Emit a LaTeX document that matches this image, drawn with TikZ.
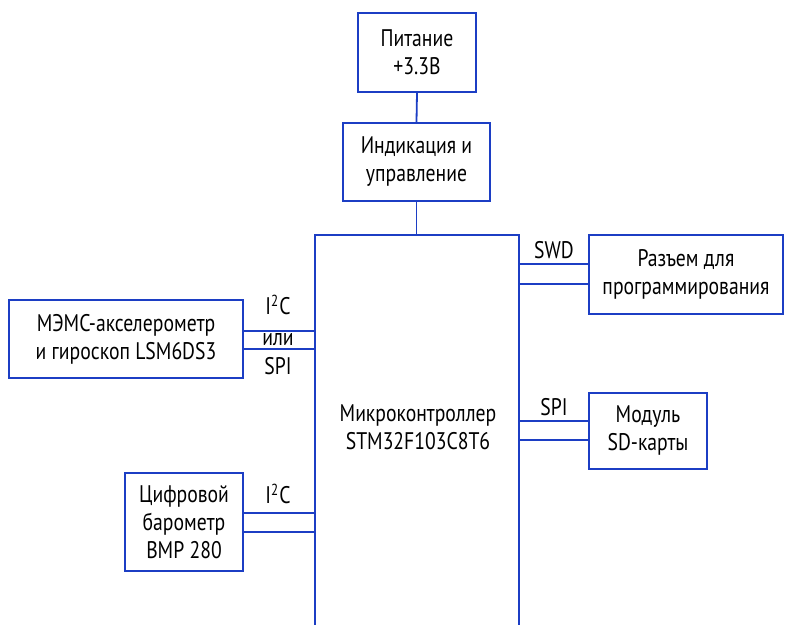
\documentclass[tikz,border=0pt]{standalone}
\usepackage{fontspec}
\setmainfont{PT Sans}[FakeStretch=0.82]
\definecolor{wire}{RGB}{28,62,196}
\tikzset{
  blk/.style={draw=wire, line width=1.2pt, align=center, inner sep=0pt},
  bus/.style={wire, line width=0.9pt},
  sig/.style={font=\fontsize{12}{14}\selectfont, inner sep=0pt}
}
\begin{document}
\begin{tikzpicture}[x=0.5pt,y=-0.5pt,font=\fontsize{12}{14}\selectfont]
    \useasboundingbox (0,0) rectangle (788,625);
    \clip (0,0) rectangle (788,625);

    % blocks
    \node[blk, minimum width=59pt, minimum height=39.5pt] (pwr) at (417,52.5) {Питание\\+3.3В};
    \node[blk, minimum width=73.5pt, minimum height=39pt] (ind) at (416.5,162) {Индикация и\\управление};
    \node[blk, minimum width=102pt, minimum height=215pt] (mcu) at (417,450) {};
    \node[sig, align=center] (mcutxt) at (418,427) {Микроконтроллер\\STM32F103C8T6};
    \node[blk, minimum width=97pt, minimum height=39.5pt] (swd) at (686,274.5) {Разъем для\\программирования};
    \node[blk, minimum width=59pt, minimum height=38pt] (sd) at (648,431) {Модуль\\SD-карты};
    \node[blk, minimum width=117pt, minimum height=39pt] (mems) at (126,339) {МЭМС-акселерометр\\и гироскоп LSM6DS3};
    \node[blk, minimum width=59pt, minimum height=49pt] (baro) at (184,522) {Цифровой\\барометр\\BMP 280};

    % power chain
    \draw[bus] (pwr.south) -- (ind.north);
    \draw[bus] (ind.south) -- (ind.south |- mcu.north);

    % sensor buses
    \draw[bus] (mems.east |- 0,331) -- (mcu.west |- 0,331);
    \draw[bus] (mems.east |- 0,349) -- (mcu.west |- 0,349);
    \draw[bus] (baro.east |- 0,513) -- (mcu.west |- 0,513);
    \draw[bus] (baro.east |- 0,532) -- (mcu.west |- 0,532);

    % programming port and card
    \draw[bus] (mcu.east |- 0,264) -- (swd.west |- 0,264);
    \draw[bus] (mcu.east |- 0,284) -- (swd.west |- 0,284);
    \draw[bus] (mcu.east |- 0,421) -- (sd.west |- 0,421);
    \draw[bus] (mcu.east |- 0,440) -- (sd.west |- 0,440);

    % bus names
    \node[sig] (i2ca) at (278,305) {I\textsuperscript{2}C};
    \node[sig] (ili) at (278,340) {или};
    \node[sig] (spia) at (278,366) {SPI};
    \node[sig] (i2cb) at (278,494) {I\textsuperscript{2}C};
    \node[sig] (swdtxt) at (554,250) {SWD};
    \node[sig] (spib) at (554,407) {SPI};
\end{tikzpicture}
\end{document}
